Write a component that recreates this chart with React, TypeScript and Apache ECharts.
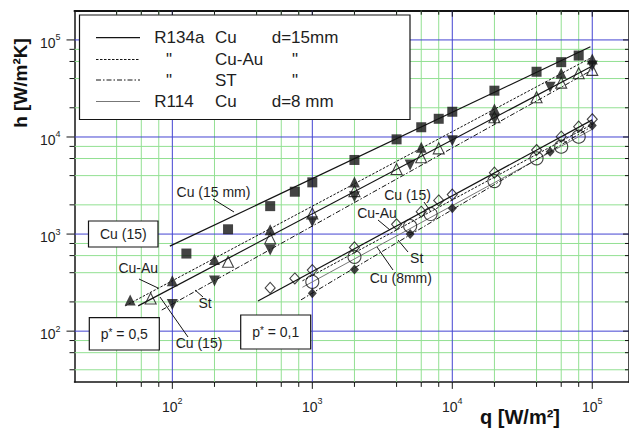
import React, { useEffect, useRef } from "react";
import * as echarts from "echarts";

const FONT = '"Liberation Sans", Arial, Helvetica, sans-serif';
const X_MIN = 20;
const X_MAX = 183000;
const Y_MIN = 30;
const Y_MAX = 200000;

const majorX = [100, 1000, 10000, 100000];
const majorY = [100, 1000, 10000, 100000];
const minorX = [40, 60, 80, 200, 400, 600, 800, 2000, 4000, 6000, 8000, 20000, 40000, 60000, 80000];
const minorY = [40, 60, 80, 200, 400, 600, 800, 2000, 4000, 6000, 8000, 20000, 40000, 60000, 80000];

// p* = 0.5 group
const sqQ = [126, 250, 500, 750, 1000, 2000, 4000, 6000, 8000, 10000, 20000, 40000, 60000, 80000];
const sqH = [630, 1120, 1940, 2730, 3410, 5800, 9460, 12600, 15400, 18200, 30000, 47000, 59000, 69000];
const upFilledQ = [50, 100, 200, 500, 2000, 6000, 20000, 60000, 100000];
const upFilledH = [209, 330, 548, 1110, 3440, 7830, 19450, 45400, 63700];
const upOpenQ = [70, 250, 500, 1000, 2000, 4000, 6000, 8000, 20000, 40000, 60000, 80000, 100000];
const upOpenH = [217, 518, 903, 1626, 2770, 4680, 6180, 7640, 16000, 25700, 36300, 45400, 49100];
const downQ = [100, 200, 500, 1000, 2000, 5000, 10000, 20000, 50000, 100000];
const downH = [188, 328, 684, 1340, 2430, 5140, 9160, 15240, 32500, 54000];

// p* = 0.1 group
const diaOpenQ = [500, 750, 1000, 2000, 4000, 6000, 8000, 10000, 20000, 40000, 60000, 80000, 100000];
const diaOpenH = [279, 349, 426, 729, 1260, 1700, 2220, 2550, 4290, 7350, 10070, 12770, 15240];
const circQ = [1000, 2000, 5000, 7000, 20000, 40000, 60000, 80000];
const circH = [322, 583, 1210, 1610, 3515, 6030, 7940, 10070];
const diaFilledQ = [1000, 2000, 5000, 10000, 50000, 100000];
const diaFilledH = [245, 432, 1000, 1840, 7050, 13100];

// fitted lines (end points)
const lineSqUpper = [[96, 750], [97000, 85000]];
const lineCuAuUpper = [[46, 182], [97000, 65000]];
const lineCuUpper = [[57, 182], [97000, 52700]];
const lineStUpper = [[84, 165], [97000, 47900]];
const lineCuLower = [[409, 204], [100000, 15000]];
const lineCuAuLower = [[850, 330], [100000, 13500]];
const lineCu8Lower = [[850, 283], [100000, 12000]];
const lineStLower = [[830, 210], [100000, 12900]];

const GREEN = "#92e092";
const BLUE = "#4444d2";
const INK = "#141414";

const pairs = (q: number[], h: number[]) => q.map((v, i) => [v, h[i]]);

function gridSeries(values: number[], dir: "x" | "y", color: string, major: boolean) {
  return {
    type: "custom",
    coordinateSystem: "cartesian2d",
    silent: true,
    z: major ? 2 : 1,
    data: values.map((v) => (dir === "x" ? [v, Y_MIN] : [X_MIN, v])),
    renderItem: (_p: any, api: any) => {
      const v = api.value(dir === "x" ? 0 : 1);
      const a = dir === "x" ? api.coord([v, Y_MIN]) : api.coord([X_MIN, v]);
      const b = dir === "x" ? api.coord([v, Y_MAX]) : api.coord([X_MAX, v]);
      const tk = { stroke: INK, lineWidth: 1 };
      const children: any[] = [
        { type: "line", shape: { x1: a[0], y1: a[1], x2: b[0], y2: b[1] }, style: { stroke: color, lineWidth: 1 } },
      ];
      if (dir === "x") {
        const out = major ? 7 : 5;
        const inn = major ? 6 : 4;
        children.push({ type: "line", shape: { x1: a[0], y1: a[1], x2: a[0], y2: a[1] + out }, style: tk });
        children.push({ type: "line", shape: { x1: b[0], y1: b[1], x2: b[0], y2: b[1] + inn }, style: tk });
      } else {
        const out = major ? 8 : 5;
        const inn = major ? 6 : 4;
        children.push({ type: "line", shape: { x1: a[0] - out, y1: a[1], x2: a[0], y2: a[1] }, style: tk });
        children.push({ type: "line", shape: { x1: b[0] - inn, y1: b[1], x2: b[0], y2: b[1] }, style: tk });
      }
      return { type: "group", children };
    },
  };
}

const lineS = (name: string, data: number[][], style: any) => ({
  type: "line",
  name,
  data,
  symbol: "none",
  showSymbol: false,
  silent: true,
  z: 3,
  lineStyle: { color: INK, width: 1.2, ...style },
});

const scat = (name: string, data: number[][], symbol: string, size: any, filled: boolean, rotate = 0) => ({
  type: "scatter",
  name,
  data,
  symbol,
  symbolSize: size,
  symbolRotate: rotate,
  silent: true,
  z: 4,
  itemStyle: filled
    ? { color: INK }
    : { color: "rgba(255,255,255,0)", borderColor: INK, borderWidth: 1.1 },
});

const tickFormatter = (v: number) => {
  const k = Math.log10(v);
  const r = Math.round(k);
  if (Math.abs(k - r) > 1e-6) return "";
  return `{b|10}{s|${r}}`;
};
const richLabel = {
  b: { fontSize: 14, fontFamily: FONT, color: "#1e1e1e", lineHeight: 17, verticalAlign: "bottom" },
  s: { fontSize: 9, fontFamily: FONT, color: "#1e1e1e", verticalAlign: "top" },
};

const txt = (text: string, x: number, y: number, size = 14, align = "center", extra: any = {}) => ({
  type: "text",
  x,
  y,
  z: 20,
  style: { text, fill: "#1e1e1e", font: `${size}px ${FONT}`, align, verticalAlign: "middle", ...extra },
});
const seg = (x1: number, y1: number, x2: number, y2: number, style: any = {}) => ({
  type: "line",
  z: 20,
  shape: { x1, y1, x2, y2 },
  style: { stroke: INK, lineWidth: 1, ...style },
});
const box = (x: number, y: number, w: number, h: number) => ({
  type: "rect",
  z: 19,
  shape: { x, y, width: w, height: h },
  style: { fill: "#fff", stroke: INK, lineWidth: 1.2 },
});
const pStar = (val: string, x: number, y: number) => ({
  type: "text",
  x,
  y,
  z: 20,
  style: {
    text: `p{s|*} = ${val}`,
    fill: "#1e1e1e",
    font: `14px ${FONT}`,
    align: "center",
    verticalAlign: "middle",
    rich: { s: { fontSize: 10, fontFamily: FONT, fill: "#1e1e1e", verticalAlign: "top" } },
  },
});

const legendRows = [
  { y: 37.7, dash: null, color: INK, width: 1.3, c1: "R134a", c2: "Cu", c3: "d=15mm" },
  { y: 59.5, dash: [2.5, 1.5], color: INK, width: 1, c1: '"', c2: "Cu-Au", c3: '"' },
  { y: 80, dash: [5, 2, 1.5, 2], color: INK, width: 1, c1: '"', c2: "ST", c3: '"' },
  { y: 101.5, dash: null, color: "#777", width: 1, c1: "R114", c2: "Cu", c3: "d=8 mm" },
];

function buildGraphic() {
  const g: any[] = [];
  g.push(box(79.5, 15, 330.5, 104.5));
  legendRows.forEach((r) => {
    g.push(seg(96, r.y, 140, r.y, { stroke: r.color, lineWidth: r.width, lineDash: r.dash || undefined }));
    if (r.c1 === '"') g.push(txt(r.c1, 169, r.y, 17, "center"));
    else g.push(txt(r.c1, 154.3, r.y, 17, "left"));
    g.push(txt(r.c2, 215, r.y, 17, "left"));
    if (r.c3 === '"') g.push(txt(r.c3, 295, r.y, 17, "center"));
    else g.push(txt(r.c3, 271.7, r.y, 17, "left"));
  });
  // annotations, upper group
  g.push(txt("Cu (15 mm)", 213.5, 191.7));
  g.push(seg(213, 199, 234, 212));
  g.push(box(88.5, 221, 69.5, 26));
  g.push(txt("Cu (15)", 123.3, 234));
  g.push(txt("Cu-Au", 138.3, 268.3));
  g.push(seg(139, 279, 158, 288));
  g.push(txt("St", 205, 303.3));
  g.push(seg(195, 290, 203, 297));
  g.push(txt("Cu (15)", 199, 343.3));
  g.push(seg(160, 297, 188, 337));
  g.push(box(89.3, 317.7, 70, 32.3));
  g.push(pStar("0,5", 124.3, 334));
  g.push(box(240.7, 315, 70, 34));
  g.push(pStar("0,1", 275.7, 332));
  // lower group
  g.push(txt("Cu (15)", 407.5, 195));
  g.push(seg(424, 202, 431, 212));
  g.push(txt("Cu-Au", 377, 213));
  g.push(seg(378, 220, 390, 230));
  g.push(txt("St", 416.7, 258.3));
  g.push(seg(398, 240, 408, 252));
  g.push(txt("Cu (8mm)", 400.8, 277.7));
  g.push(seg(377, 247, 393, 270));
  // axis titles
  g.push({
    type: "text",
    x: 20,
    y: 83,
    rotation: Math.PI / 2,
    z: 20,
    style: { text: "h [W/m²K]", fill: "#111", font: `bold 19px ${FONT}`, align: "center", verticalAlign: "middle" },
  });
  g.push({
    type: "text",
    x: 520,
    y: 416.5,
    z: 20,
    style: { text: "q [W/m²]", fill: "#111", font: `bold 20px ${FONT}`, align: "center", verticalAlign: "middle" },
  });
  return g;
}

const axisBase = { type: "log", logBase: 10, splitLine: { show: false }, axisTick: { show: false } };

const option: any = {
  animation: false,
  backgroundColor: "#fff",
  grid: { left: 74.5, top: 10.7, width: 555.5, height: 371.2, containLabel: false },
  xAxis: [
    {
      ...axisBase,
      min: X_MIN,
      max: X_MAX,
      position: "bottom",
      axisLine: { show: true, onZero: false, lineStyle: { color: INK, width: 1.5 } },
      axisLabel: { formatter: tickFormatter, rich: richLabel, margin: 15, showMinLabel: false, showMaxLabel: false },
    },
    {
      ...axisBase,
      min: X_MIN,
      max: X_MAX,
      position: "top",
      axisLine: { show: true, onZero: false, lineStyle: { color: INK, width: 2 } },
      axisLabel: { show: false },
    },
  ],
  yAxis: [
    {
      ...axisBase,
      min: Y_MIN,
      max: Y_MAX,
      position: "left",
      axisLine: { show: true, onZero: false, lineStyle: { color: INK, width: 1.5 } },
      axisLabel: {
        formatter: tickFormatter,
        rich: richLabel,
        margin: 14,
        padding: [3, 0, 0, 0],
        showMinLabel: false,
        showMaxLabel: false,
      },
    },
    {
      ...axisBase,
      min: Y_MIN,
      max: Y_MAX,
      position: "right",
      axisLine: { show: true, onZero: false, lineStyle: { color: INK, width: 1.5 } },
      axisLabel: { show: false },
    },
  ],
  series: [
    gridSeries(minorX, "x", GREEN, false),
    gridSeries(minorY, "y", GREEN, false),
    gridSeries(majorX, "x", BLUE, true),
    gridSeries(majorY, "y", BLUE, true),
    lineS("R134a Cu 15mm", lineSqUpper, { width: 1.3 }),
    lineS("Cu-Au 0.5", lineCuAuUpper, { width: 1, type: [2.5, 1.5] }),
    lineS("Cu 0.5", lineCuUpper, { width: 1.2 }),
    lineS("ST 0.5", lineStUpper, { width: 1, type: [5, 2, 1.5, 2] }),
    lineS("Cu 0.1", lineCuLower, { width: 1.2 }),
    lineS("Cu-Au 0.1", lineCuAuLower, { width: 1, type: [2.5, 1.5] }),
    lineS("R114 Cu 8mm", lineCu8Lower, { width: 1, color: "#777" }),
    lineS("ST 0.1", lineStLower, { width: 1, type: [5, 2, 1.5, 2] }),
    scat("squares", pairs(sqQ, sqH), "rect", 10, true),
    scat("filled up", pairs(upFilledQ, upFilledH), "triangle", 11, true),
    scat("open up", pairs(upOpenQ, upOpenH), "triangle", 11, false),
    scat("filled down", pairs(downQ, downH), "triangle", 11, true, 180),
    scat("open diamonds", pairs(diaOpenQ, diaOpenH), "diamond", [10, 11], false),
    scat("open circles", pairs(circQ, circH), "circle", 13, false),
    scat("filled diamonds", pairs(diaFilledQ, diaFilledH), "diamond", [9, 10], true),
  ],
  graphic: { elements: buildGraphic() },
};

export default function App() {
  const ref = useRef<HTMLDivElement>(null);
  useEffect(() => {
    const chart = echarts.init(ref.current as HTMLDivElement, null, { renderer: "svg" });
    chart.setOption(option);
    return () => chart.dispose();
  }, []);
  return (
    <div
      ref={ref}
      style={{ position: "absolute", left: 0, top: 0, width: 629, height: 429, background: "#fff" }}
    />
  );
}
